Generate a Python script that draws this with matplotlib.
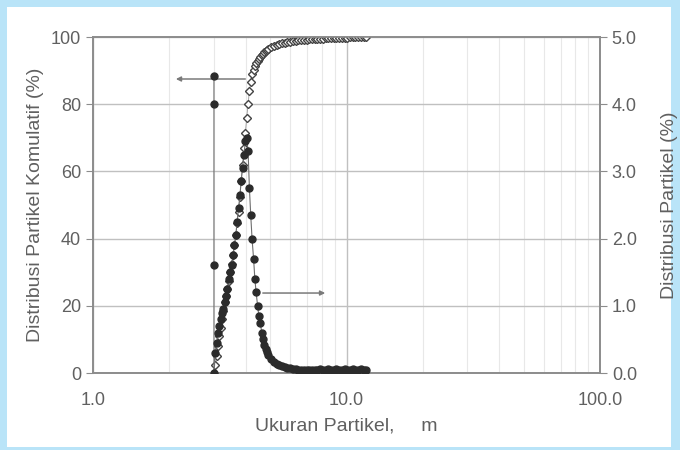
"""Particle size distribution: cumulative (left axis) and differential (right axis)"""

from matplotlib import pyplot as plt
from matplotlib.patches import Rectangle
from matplotlib.ticker import FixedLocator, NullFormatter

# particle size (um), shared by both series
size_um = [
    3.00, 3.04, 3.08, 3.12, 3.15, 3.19, 3.23, 3.27, 3.31, 3.35,
    3.39, 3.44, 3.48, 3.52, 3.57, 3.61, 3.66, 3.70, 3.75, 3.80,
    3.84, 3.89, 3.94, 3.99, 4.04, 4.09, 4.14, 4.19, 4.24, 4.30,
    4.35, 4.40, 4.46, 4.51, 4.57, 4.63, 4.68, 4.74, 4.80, 4.86,
    4.92,
    5.04, 5.17, 5.30, 5.43, 5.57, 5.71, 5.85, 6.00, 6.15, 6.30,
    6.46, 6.62, 6.79, 6.96, 7.13, 7.31, 7.49, 7.68, 7.87, 8.07,
    8.27, 8.48, 8.69, 8.91, 9.13, 9.36, 9.59, 9.83, 10.08, 10.33,
    10.59, 10.85, 11.13, 11.40, 11.69, 11.98,
]
cumulative_pct = [
    0.0, 2.5, 5.0, 8.0, 11.0, 13.5, 16.0, 18.5, 21.0, 23.0,
    25.0, 27.5, 30.0, 32.5, 35.0, 38.0, 41.0, 44.5, 48.0, 52.5,
    57.0, 62.0, 67.0, 71.5, 76.0, 80.0, 84.0, 86.5, 89.0, 90.3,
    91.5, 92.3, 93.0, 93.5, 94.0, 94.5, 95.0, 95.4, 95.8, 96.1,
    96.4,
    96.9, 97.3, 97.6, 97.9, 98.1, 98.3, 98.5, 98.6, 98.75, 98.9,
    99.0, 99.1, 99.2, 99.25, 99.3, 99.35, 99.4, 99.45, 99.5, 99.55,
    99.6, 99.62, 99.65, 99.7, 99.72, 99.75, 99.78, 99.8, 99.83, 99.86,
    99.88, 99.9, 99.93, 99.95, 99.97, 100.0,
]
distribution_pct = [
    0.0, 0.3, 0.45, 0.6, 0.7, 0.8, 0.9, 0.95, 1.05, 1.15,
    1.25, 1.4, 1.5, 1.6, 1.75, 1.9, 2.05, 2.25, 2.45, 2.65,
    2.85, 3.05, 3.25, 3.45, 3.5, 3.3, 2.75, 2.35, 2.0, 1.7,
    1.4, 1.2, 1.0, 0.85, 0.75, 0.6, 0.5, 0.42, 0.36, 0.31,
    0.27,
    0.21, 0.17, 0.14, 0.12, 0.10, 0.09, 0.08, 0.07, 0.06, 0.06,
    0.05, 0.05, 0.05, 0.05, 0.05, 0.05, 0.05, 0.05, 0.06, 0.05,
    0.05, 0.06, 0.05, 0.05, 0.06, 0.05, 0.05, 0.06, 0.05, 0.05,
    0.06, 0.05, 0.05, 0.06, 0.05, 0.04,
]
# odd readings logged at the first size bin
spike_um = [3.0, 3.0, 3.0]
spike_pct = [4.42, 4.0, 1.6]

x_ticks = [1, 10, 100]
x_tick_labels = ["1.0", "10.0", "100.0"]
left_ticks = [0, 20, 40, 60, 80, 100]
right_ticks = [0, 1, 2, 3, 4, 5]

text_color = "#606060"
axis_color = "#8c8c8c"
grid_color = "#c0c0c0"
minor_grid_color = "#e8e8e8"
point_color = "#2b2b2b"

plt.rcParams['font.family'] = ['Liberation Sans', 'DejaVu Sans']

fig = plt.figure(figsize=(6.8, 4.5), dpi=100, facecolor="#b9e4f8")
fig.patches.append(Rectangle((7 / 680, 3 / 450), 664 / 680, 440 / 450,
                             transform=fig.transFigure, facecolor="white",
                             edgecolor="none", zorder=-10))

ax = fig.add_axes([93 / 680, 77 / 450, 507 / 680, 336 / 450])
ax.set_xscale('log')
ax.set_xlim(1, 100)
ax.set_ylim(0, 100)

ax.xaxis.set_major_locator(FixedLocator(x_ticks))
ax.set_xticklabels(x_tick_labels)
ax.xaxis.set_minor_locator(FixedLocator([k * d for d in (1, 10) for k in range(2, 10)]))
ax.xaxis.set_minor_formatter(NullFormatter())
ax.set_yticks(left_ticks)
ax.set_yticklabels([str(t) for t in left_ticks])

ax.grid(True, which='minor', axis='x', color=minor_grid_color, linewidth=0.8)
ax.grid(True, which='major', axis='x', color=grid_color, linewidth=1.0)
ax.grid(True, which='major', axis='y', color=grid_color, linewidth=1.0)
ax.set_axisbelow(True)

for spine in ax.spines.values():
    spine.set_color(axis_color)
    spine.set_linewidth(1.2)
ax.tick_params(axis='x', which='both', length=0, labelsize=13, labelcolor=text_color, pad=14)
ax.tick_params(axis='y', length=5, color=axis_color, labelsize=13, labelcolor=text_color)

ax.plot(size_um, cumulative_pct, color="#9a9a9a", linewidth=0.6, marker='D',
        markersize=4.0, markerfacecolor="white", markeredgecolor="#444444",
        markeredgewidth=1.0, zorder=3)
ax.set_ylabel("Distribusi Partikel Komulatif (%)", fontsize=14, color=text_color, labelpad=5)
ax.set_xlabel("Ukuran Partikel,     m", fontsize=14, color=text_color, labelpad=6)

ax2 = ax.twinx()
ax2.set_ylim(0, 5)
ax2.set_yticks(right_ticks)
ax2.set_yticklabels([f"{t:.1f}" for t in right_ticks])
for spine in ax2.spines.values():
    spine.set_color(axis_color)
    spine.set_linewidth(1.2)
ax2.tick_params(axis='y', length=5, color=axis_color, labelsize=13, labelcolor=text_color)

dist_x = spike_um + size_um
dist_y = spike_pct + distribution_pct
ax2.plot(dist_x, dist_y, color="#6e6e6e", linewidth=0.8, marker='o',
         markersize=5.0, markerfacecolor=point_color, markeredgecolor=point_color, zorder=4)
ax2.set_ylabel("Distribusi Partikel (%)", fontsize=14, color=text_color, labelpad=17)

# arrows pointing each curve to its own axis
arrow_style = dict(arrowstyle='-|>', color="#7a7a7a", linewidth=1.1, mutation_scale=7)
ax.annotate("", xy=(2.07, 87.5), xytext=(4.09, 87.5), arrowprops=arrow_style)
ax2.annotate("", xy=(8.45, 1.19), xytext=(4.56, 1.19), arrowprops=arrow_style)

fig.savefig("out.png", dpi=100, facecolor=fig.get_facecolor())
plt.close(fig)
